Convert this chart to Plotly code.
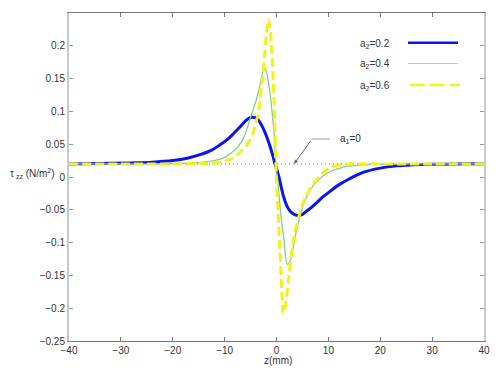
import plotly.graph_objects as go

# ---- data ----
z_a02 = [-40, -34, -28, -24, -20, -17, -14.75, -12.5, -10.9, -9.5, -8.3, -7.2, -6.4, -5.6, -4.8, -4, -3.5,
         -2.5, -1.25, -0.3, 0.5, 1.3, 2, 2.6, 3.4, 4.2, 5, 5.8, 6.8, 7.75, 9, 10.3, 12, 14, 16.7, 20, 23.2,
         26.4, 30, 35, 40]
tau_a02 = [0.02, 0.0205, 0.0215, 0.0225, 0.025, 0.029, 0.034, 0.041, 0.049, 0.057, 0.066, 0.075, 0.082,
           0.088, 0.091, 0.090, 0.087, 0.073, 0.047, 0.021, -0.001, -0.028, -0.044, -0.052, -0.057, -0.059,
           -0.057, -0.052, -0.046, -0.039, -0.030, -0.022, -0.012, -0.003, 0.007, 0.0135, 0.017, 0.0185,
           0.0195, 0.02, 0.02]

z_a04 = [-40, -30, -20, -15, -12, -10, -8.5, -7.5, -6.5, -5.5, -5.0, -4, -3.2, -2.8, -2.35, -2, -1.58, -1.2,
         -0.93, -0.48, -0.1, 0.35, 0.8, 1.45, 2.08, 2.5, 2.9, 3.4, 3.9, 4.4, 4.86, 5.5, 6.1, 7, 7.75, 9, 10.3,
         12.9, 16, 20, 30, 40]
tau_a04 = [0.02, 0.02, 0.0205, 0.022, 0.025, 0.030, 0.038, 0.046, 0.057, 0.078, 0.091, 0.115, 0.140, 0.155,
           0.165, 0.162, 0.145, 0.125, 0.105, 0.067, 0.021, -0.015, -0.055, -0.096, -0.133, -0.130, -0.120,
           -0.100, -0.080, -0.064, -0.050, -0.036, -0.025, -0.014, -0.007, 0.002, 0.008, 0.015, 0.018,
           0.0195, 0.02, 0.02]

z_a06 = [-40, -30, -20, -15, -12.2, -10.25, -8.3, -7.5, -6.7, -5.75, -5, -4.5, -4, -3.5, -3.2, -2.7, -2.2,
         -1.9, -1.58, -1.25, -0.93, -0.48, -0.1, 0.35, 0.8, 1.05, 1.3, 1.6, 1.9, 2.27, 2.7, 3.24, 3.8, 4.5,
         5.1, 5.8, 6.7, 7.75, 9, 10.3, 12.9, 16, 20, 30, 40]
tau_a06 = [0.02, 0.02, 0.02, 0.0205, 0.021, 0.0236, 0.029, 0.034, 0.040, 0.048, 0.058, 0.067, 0.082, 0.097,
           0.115, 0.150, 0.194, 0.222, 0.240, 0.228, 0.194, 0.118, 0.016, -0.060, -0.136, -0.180, -0.208,
           -0.202, -0.185, -0.160, -0.130, -0.098, -0.075, -0.055, -0.040, -0.028, -0.015, -0.004, 0.007,
           0.014, 0.0195, 0.02, 0.02, 0.02, 0.02]

z_ref = [-40, 40]
tau_ref = [0.02, 0.02]

series_labels = ["a<sub>2</sub>=0.2", "a<sub>2</sub>=0.4", "a<sub>2</sub>=0.6"]
note_label = "a<sub>1</sub>=0"
note_point = (3.4, 0.02)
x_ticks = [-40, -30, -20, -10, 0, 10, 20, 30, 40]
y_ticks = [-0.25, -0.2, -0.15, -0.1, -0.05, 0, 0.05, 0.1, 0.15, 0.2, 0.25]
y_ticktext = ["\u22120.25", "\u22120.2", "\u22120.15", "\u22120.1", "\u22120.05", "0", "0.05", "0.1", "0.15", "0.2", "0.25"]
x_ticktext = ["\u221240", "\u221230", "\u221220", "\u221210", "0", "10", "20", "30", "40"]

# ---- styles ----
FONT = "Liberation Sans, Arial, sans-serif"
BLUE = "#0a14f0"
GREEN = "#88cc88"
YELLOW = "#f2f21a"

fig = go.Figure()
fig.add_trace(go.Scatter(x=z_ref, y=tau_ref, mode="lines",
                         line=dict(color="#777777", width=1, dash="1px,3px"), showlegend=False))
fig.add_trace(go.Scatter(x=z_a02, y=tau_a02, mode="lines", line_shape="spline",
                         line=dict(color=BLUE, width=3), showlegend=False))
fig.add_trace(go.Scatter(x=z_a04, y=tau_a04, mode="lines", line_shape="spline",
                         line=dict(color=GREEN, width=1.3), showlegend=False))
fig.add_trace(go.Scatter(x=z_a06, y=tau_a06, mode="lines", line_shape="spline",
                         line=dict(color=YELLOW, width=3, dash="9px,4px"), showlegend=False))

# page offset (body margin of the html page)
OFF = 8
W, H = 500 - OFF, 372 - OFF
PL, PR, PT, PB = 69, 484, 13, 341          # plot area in page pixels
ml, mt = PL - OFF, PT - OFF
mr = (OFF + W) - PR
mb = (OFF + H) - PB
pw, ph = PR - PL, PB - PT

def px(xp):
    return (xp - PL) / pw

def py(yp):
    return (PB - yp) / ph

fig.update_layout(
    width=W, height=H,
    margin=dict(l=ml, r=mr, t=mt, b=mb, autoexpand=False),
    paper_bgcolor="white", plot_bgcolor="white",
    font=dict(family=FONT, size=10, color="#333333"),
    showlegend=False,
)
fig.update_xaxes(range=[-40, 40], tickvals=x_ticks, ticktext=x_ticktext, ticks="inside", ticklen=4,
                 tickcolor="#777777", showgrid=False, zeroline=False, showline=True, linecolor="#777777",
                 linewidth=1, mirror="ticks", tickfont=dict(size=10, color="#333333"))
fig.update_yaxes(range=[-0.25, 0.25], tickvals=y_ticks, ticktext=y_ticktext, ticks="inside", ticklen=4,
                 tickcolor="#999999", showgrid=False, zeroline=False, showline=True, linecolor="#c8c8c8",
                 linewidth=2, mirror="ticks", tickfont=dict(size=10, color="#333333"))

ann = []
ann.append(dict(xref="paper", yref="paper", x=px(8), y=py(173), xanchor="left", yanchor="middle",
                text="\u03c4<sub> zz</sub> (N/m<sup>2</sup>)", showarrow=False, font=dict(size=10)))
ann.append(dict(xref="paper", yref="paper", x=px(278), y=py(360), xanchor="center", yanchor="middle",
                text="z(mm)", showarrow=False, font=dict(size=10)))
rows = [42.7, 63.5, 85]
for lab, yy in zip(series_labels, rows):
    ann.append(dict(xref="paper", yref="paper", x=px(358), y=py(yy + 1), xanchor="left", yanchor="middle",
                    text=lab, showarrow=False, font=dict(size=10)))
ann.append(dict(xref="paper", yref="paper", x=px(337.7), y=py(139), xanchor="left", yanchor="middle",
                text=note_label, showarrow=False, font=dict(size=10)))
ann.append(dict(x=note_point[0], y=note_point[1], xref="x", yref="y", text="", showarrow=True,
                ax=17.4, ay=-24.3, arrowhead=2, arrowsize=0.8, arrowwidth=1, arrowcolor="#666666"))
fig.update_layout(annotations=ann)

shapes = [
    dict(type="line", xref="paper", yref="paper", x0=px(408), x1=px(458), y0=py(rows[0]), y1=py(rows[0]),
         line=dict(color=BLUE, width=2.5)),
    dict(type="line", xref="paper", yref="paper", x0=px(408), x1=px(458), y0=py(rows[1]), y1=py(rows[1]),
         line=dict(color="#80f080", width=1)),
    dict(type="line", xref="paper", yref="paper", x0=px(410), x1=px(460), y0=py(rows[2]), y1=py(rows[2]),
         line=dict(color=YELLOW, width=2.5, dash="15px,5px")),
    dict(type="line", xref="paper", yref="paper", x0=px(311.7), x1=px(330), y0=py(139), y1=py(139),
         line=dict(color="#999999", width=1)),
]
fig.update_layout(shapes=shapes)

fig.write_html("out.html")
